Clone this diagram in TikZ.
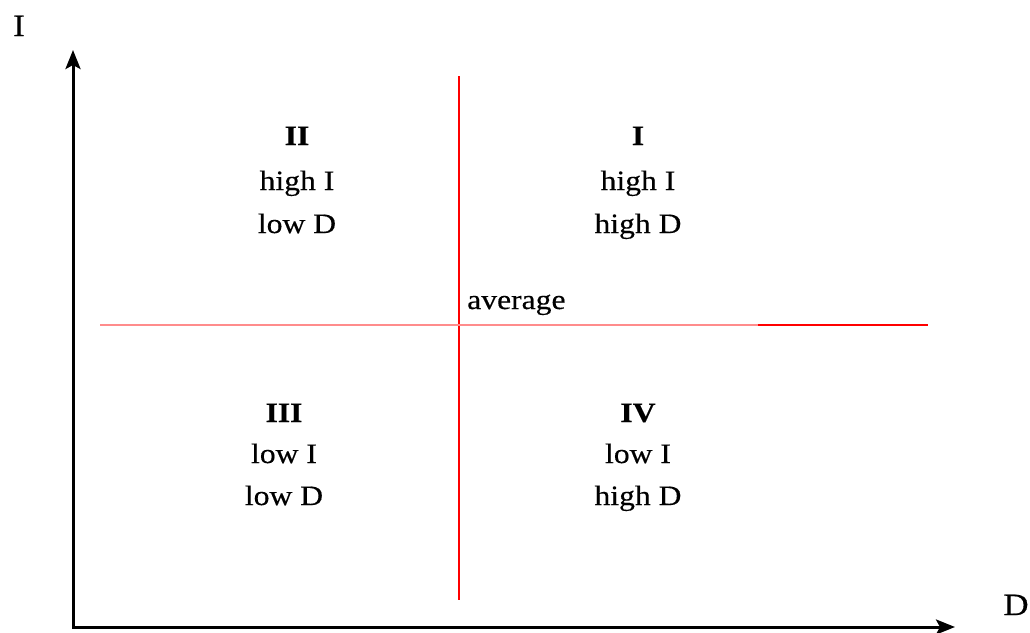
\documentclass[tikz,border=0pt]{standalone}
\usepackage{fontspec}
\setmainfont{Liberation Serif}[FakeStretch=1.13,FakeBold=0.4]
\usetikzlibrary{arrows.meta}
\begin{document}
\begin{tikzpicture}[x=1pt,y=-1pt,
  qtext/.style={anchor=base,inner sep=0pt,font=\fontsize{28}{34}\selectfont},
  qnum/.style={qtext,font=\fontsize{28}{34}\selectfont\bfseries},
  axlabel/.style={anchor=base,inner sep=0pt,font=\fontsize{31}{36}\selectfont},
  axisline/.style={line width=3pt,black,{Stealth[length=19pt,width=15pt,inset=4pt]}-{Stealth[length=19pt,width=15pt,inset=4pt]}},
  avgline/.style={line width=1.8pt,red}]
\useasboundingbox (0,0) rectangle (1030,632);
% axes
\coordinate (ytip) at (73,50);
\coordinate (orig) at (73,627);
\coordinate (xtip) at (955,627);
\draw[axisline,line join=miter] (ytip) -- (orig) -- (xtip);
\node[axlabel] (ylab) at (19,36) {I};
\node[axlabel] (xlab) at (1016,615) {D};
% average lines
\coordinate (vtop) at (459,76);
\coordinate (vbot) at (459,600);
\coordinate (hl) at (100,325);
\coordinate (hm) at (758,325);
\coordinate (hr) at (928,325);
\draw[avgline] (vtop) -- (vbot);
\draw[avgline,red!45] (hl) -- (hm);
\draw[avgline] (hm) -- (hr);
\node[qtext,anchor=base west] (avg) at (467,309) {average};
% quadrant II
\node[qnum] (q2a) at (297,145) {II};
\node[qtext] (q2b) at (297,190) {high I};
\node[qtext] (q2c) at (297,233) {low D};
% quadrant I
\node[qnum] (q1a) at (638,145) {I};
\node[qtext] (q1b) at (638,190) {high I};
\node[qtext] (q1c) at (638,233) {high D};
% quadrant III
\node[qnum] (q3a) at (284,422) {III};
\node[qtext] (q3b) at (284,463) {low I};
\node[qtext] (q3c) at (284,505) {low D};
% quadrant IV
\node[qnum] (q4a) at (638,422) {IV};
\node[qtext] (q4b) at (638,463) {low I};
\node[qtext] (q4c) at (638,505) {high D};
\end{tikzpicture}
\end{document}
